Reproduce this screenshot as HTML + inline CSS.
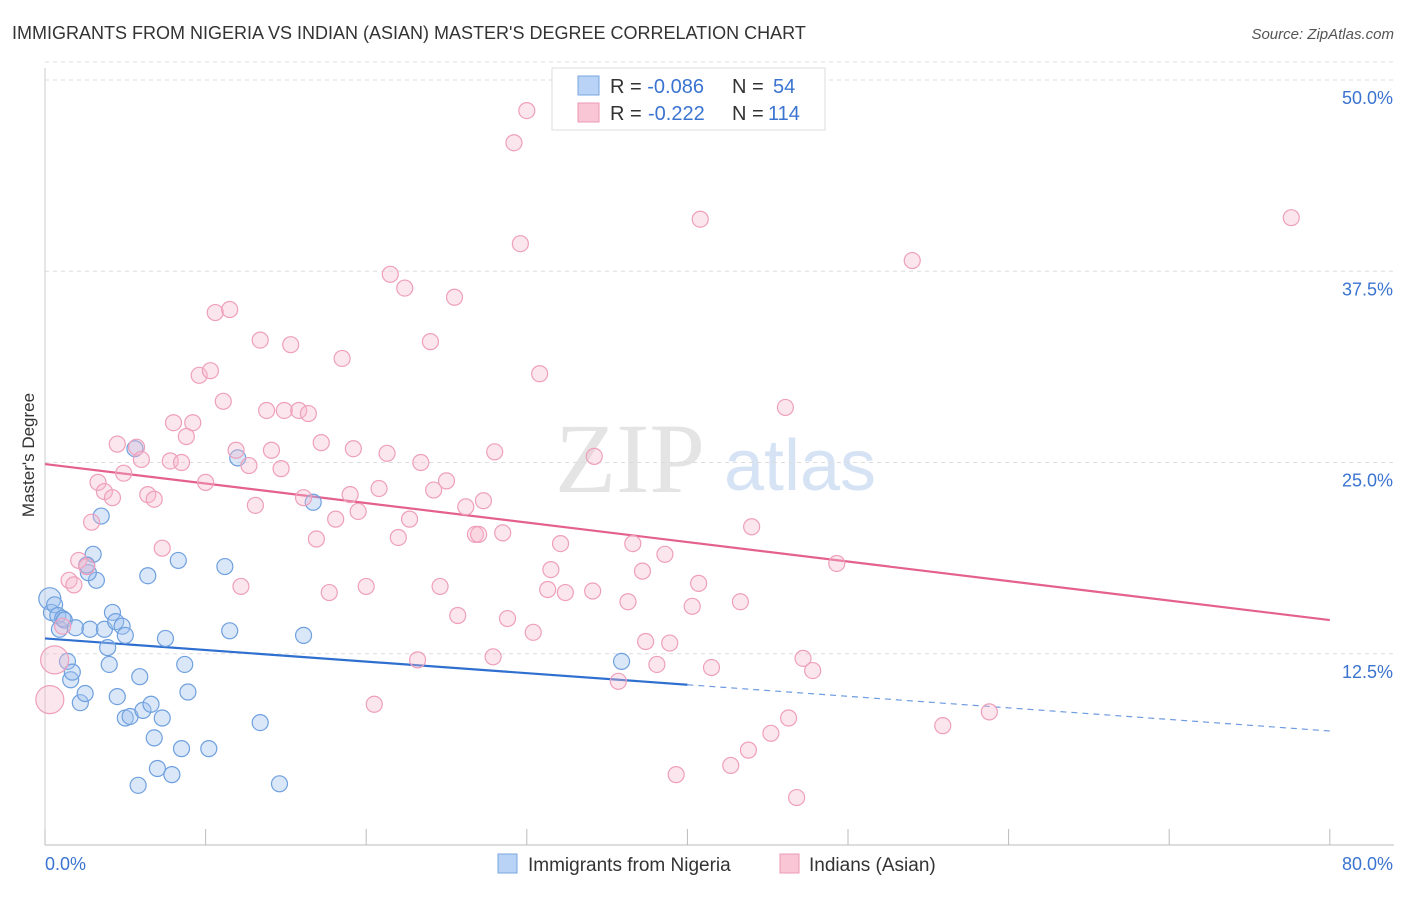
<!DOCTYPE html>
<html><head><meta charset="utf-8"><style>
body{margin:0;background:#fff;font-family:"Liberation Sans",sans-serif;}
</style></head><body>
<svg id="chart" width="1406" height="892" xmlns="http://www.w3.org/2000/svg">
<text x="12" y="39" font-size="18" fill="#333">IMMIGRANTS FROM NIGERIA VS INDIAN (ASIAN) MASTER'S DEGREE CORRELATION CHART</text>
<text x="1394" y="39" font-size="15" fill="#555" font-style="italic" text-anchor="end">Source: ZipAtlas.com</text>
<text x="630" y="492" font-size="100" fill="#e4e4e4" font-family="Liberation Serif,serif" text-anchor="middle">ZIP</text>
<text x="800" y="490" font-size="72" fill="#d6e3f5" text-anchor="middle">atlas</text>
<g id="grid"></g><g id="axes"></g><g id="trend"></g><g id="pts"></g>
<text x="34" y="455" font-size="17" fill="#333" text-anchor="middle" transform="rotate(-90 34 455)">Master's Degree</text>
<g>
<rect x="552" y="68" width="273" height="62" fill="#fff" stroke="#ddd"/>
<rect x="578" y="76" width="21" height="19" fill="#b8d3f5" stroke="#7aa7e0"/>
<rect x="578" y="103" width="21" height="19" fill="#f9c6d5" stroke="#ec9ab4"/>
<text x="610" y="93" font-size="20" fill="#333">R = <tspan fill="#3b74d0">-0.086</tspan><tspan x="732">N = </tspan><tspan x="773" fill="#3b74d0">54</tspan></text>
<text x="610" y="120" font-size="20" fill="#333">R = <tspan x="648" fill="#3b74d0">-0.222</tspan><tspan x="732">N = </tspan><tspan x="768" fill="#3b74d0">114</tspan></text>
</g>
<g>
<rect x="498" y="854" width="19" height="19" fill="#b8d3f5" stroke="#7aa7e0"/>
<text x="528" y="871" font-size="19" fill="#333">Immigrants from Nigeria</text>
<rect x="780" y="854" width="19" height="19" fill="#f9c6d5" stroke="#ec9ab4"/>
<text x="809" y="871" font-size="19" fill="#333">Indians (Asian)</text>
</g>
</svg>
<script>
const xTicks=[0,10,20,30,40,50,60,70,80];
const yTicks=[12.5,25,37.5,50];
const yTickLabels=["12.5%","25.0%","37.5%","50.0%"];
const blueX=[0.3,0.4,0.6,0.8,0.9,1.1,1.2,1.4,1.6,1.7,1.9,2.2,2.5,2.8,3.0,3.2,2.7,3.5,3.7,3.9,4.0,4.2,4.4,4.8,5.0,4.5,5.0,5.3,5.8,5.9,6.1,6.4,6.6,6.8,7.0,7.3,7.5,7.9,8.3,8.5,8.7,8.9,10.2,11.2,11.5,12.0,13.4,14.6,16.1,16.7,35.9,5.6,2.6];
const blueY=[16.1,15.2,15.7,15.0,14.1,14.8,14.7,12.0,10.8,11.3,14.2,9.3,9.9,14.1,19.0,17.3,17.8,21.5,14.1,12.9,11.8,15.2,14.6,14.3,13.7,9.7,8.3,8.4,3.9,11.0,8.8,17.6,9.2,7.0,5.0,8.3,13.5,4.6,18.6,6.3,11.8,10.0,6.3,18.2,14.0,25.3,8.0,4.0,13.7,22.4,12.0,25.9,18.3];
const pinkX=[30.0,29.2,40.8,77.6,29.6,54.0,21.5,22.4,25.5,10.6,11.5,13.4,15.3,24.0,18.5,30.8,9.6,10.3,11.1,46.1,13.8,14.9,15.8,16.4,8.0,9.2,8.8,4.5,5.7,17.2,19.2,11.9,14.1,21.3,28.0,34.2,6.0,7.8,8.5,12.7,14.7,23.4,4.9,10.0,3.3,25.0,3.7,4.2,6.4,6.8,20.8,19.0,24.2,16.1,27.3,13.1,26.2,19.5,18.1,2.9,22.7,44.0,16.9,22.0,26.8,28.5,27.0,36.6,32.1,7.3,2.1,2.6,38.6,49.3,31.5,37.2,1.5,1.8,12.2,24.6,20.0,40.7,17.7,31.3,32.4,34.1,36.3,43.3,40.3,25.7,28.8,30.4,37.4,38.9,1.1,23.2,27.9,38.1,41.5,47.2,47.8,35.7,20.5,58.8,55.9,46.3,45.2,43.8,42.7,39.3,46.8,0.6,0.3];
const pinkY=[48.0,45.9,40.9,41.0,39.3,38.2,37.3,36.4,35.8,34.8,35.0,33.0,32.7,32.9,31.8,30.8,30.7,31.0,29.0,28.6,28.4,28.4,28.4,28.2,27.6,27.6,26.7,26.2,26.0,26.3,25.9,25.8,25.8,25.6,25.7,25.4,25.2,25.1,25.0,24.8,24.6,25.0,24.3,23.7,23.7,23.8,23.1,22.7,22.9,22.6,23.3,22.9,23.2,22.7,22.5,22.2,22.1,21.8,21.3,21.1,21.3,20.8,20.0,20.1,20.3,20.4,20.3,19.7,19.7,19.4,18.6,18.2,19.0,18.4,18.0,17.9,17.3,17.0,16.9,16.9,16.9,17.1,16.5,16.7,16.5,16.6,15.9,15.9,15.6,15.0,14.8,13.9,13.3,13.2,14.3,12.1,12.3,11.8,11.6,12.2,11.4,10.7,9.2,8.7,7.8,8.3,7.3,6.2,5.2,4.6,3.1,12.1,9.5];
const pinkBig=[111,112];
const blueBig=[0];
const blueTrend=[13.5,7.45]; const blueSolidEnd=40;
const pinkTrend=[24.9,14.7];
const NS="http://www.w3.org/2000/svg";
const X=v=>45+v*16.06, Y=v=>845-v*15.3;
function mk(tag,attrs,parent){const e=document.createElementNS(NS,tag);for(const k in attrs)e.setAttribute(k,attrs[k]);document.getElementById(parent).appendChild(e);return e;}
yTicks.forEach((t,i)=>{
 const g=mk('line',{x1:45,x2:1394,y1:Y(t),y2:Y(t),stroke:'#ddd','stroke-dasharray':'4 4'},'grid');
 
 
 const l=mk('text',{x:1393,y:Y(t)+24,'font-size':18,fill:'#3b74d0','text-anchor':'end'},'grid');l.textContent=yTickLabels[i];
 
 
});
mk('line',{x1:45,x2:1394,y1:Y(50)-18,y2:Y(50)-18,stroke:'#ddd','stroke-dasharray':'4 4'},'grid');
const ax=mk('line',{x1:45,x2:1394,y1:845,y2:845,stroke:'#bbb'},'axes');


mk('line',{x1:45,x2:45,y1:68,y2:845,stroke:'#ccc'},'axes');
xTicks.forEach(t=>{const e=mk('line',{x1:X(t),x2:X(t),y1:829,y2:845,stroke:'#bbb'},'axes');
 
 });
const xl0=mk('text',{x:45,y:870,'font-size':18,fill:'#3b74d0'},'axes');xl0.textContent='0.0%';


const xl1=mk('text',{x:1393,y:870,'font-size':18,fill:'#3b74d0','text-anchor':'end'},'axes');xl1.textContent='80.0%';


blueX.forEach((x,i)=>{const c=mk('circle',{cx:X(x),cy:Y(blueY[i]),r:blueBig.includes(i)?11:8,fill:'rgba(160,196,240,0.4)',stroke:'#6fa0de','stroke-width':1.2},'pts');
 
 });
pinkX.forEach((x,i)=>{const c=mk('circle',{cx:X(x),cy:Y(pinkY[i]),r:pinkBig.includes(i)?14:8,fill:'rgba(247,182,204,0.35)',stroke:'#ee9fbb','stroke-width':1.2},'pts');
 
 });
const bAt=x=>blueTrend[0]+(blueTrend[1]-blueTrend[0])*x/80;
const b1=mk('line',{x1:X(0),y1:Y(bAt(0)),x2:X(blueSolidEnd),y2:Y(bAt(blueSolidEnd)),stroke:'#2f6fd0','stroke-width':2.2},'trend');


const b2=mk('line',{x1:X(blueSolidEnd),y1:Y(bAt(blueSolidEnd)),x2:X(80),y2:Y(bAt(80)),stroke:'#6f9be0','stroke-width':1.2,'stroke-dasharray':'6 5'},'trend');


const p1=mk('line',{x1:X(0),y1:Y(pinkTrend[0]),x2:X(80),y2:Y(pinkTrend[1]),stroke:'#e4608e','stroke-width':2.2},'trend');


</script>
</body></html>
